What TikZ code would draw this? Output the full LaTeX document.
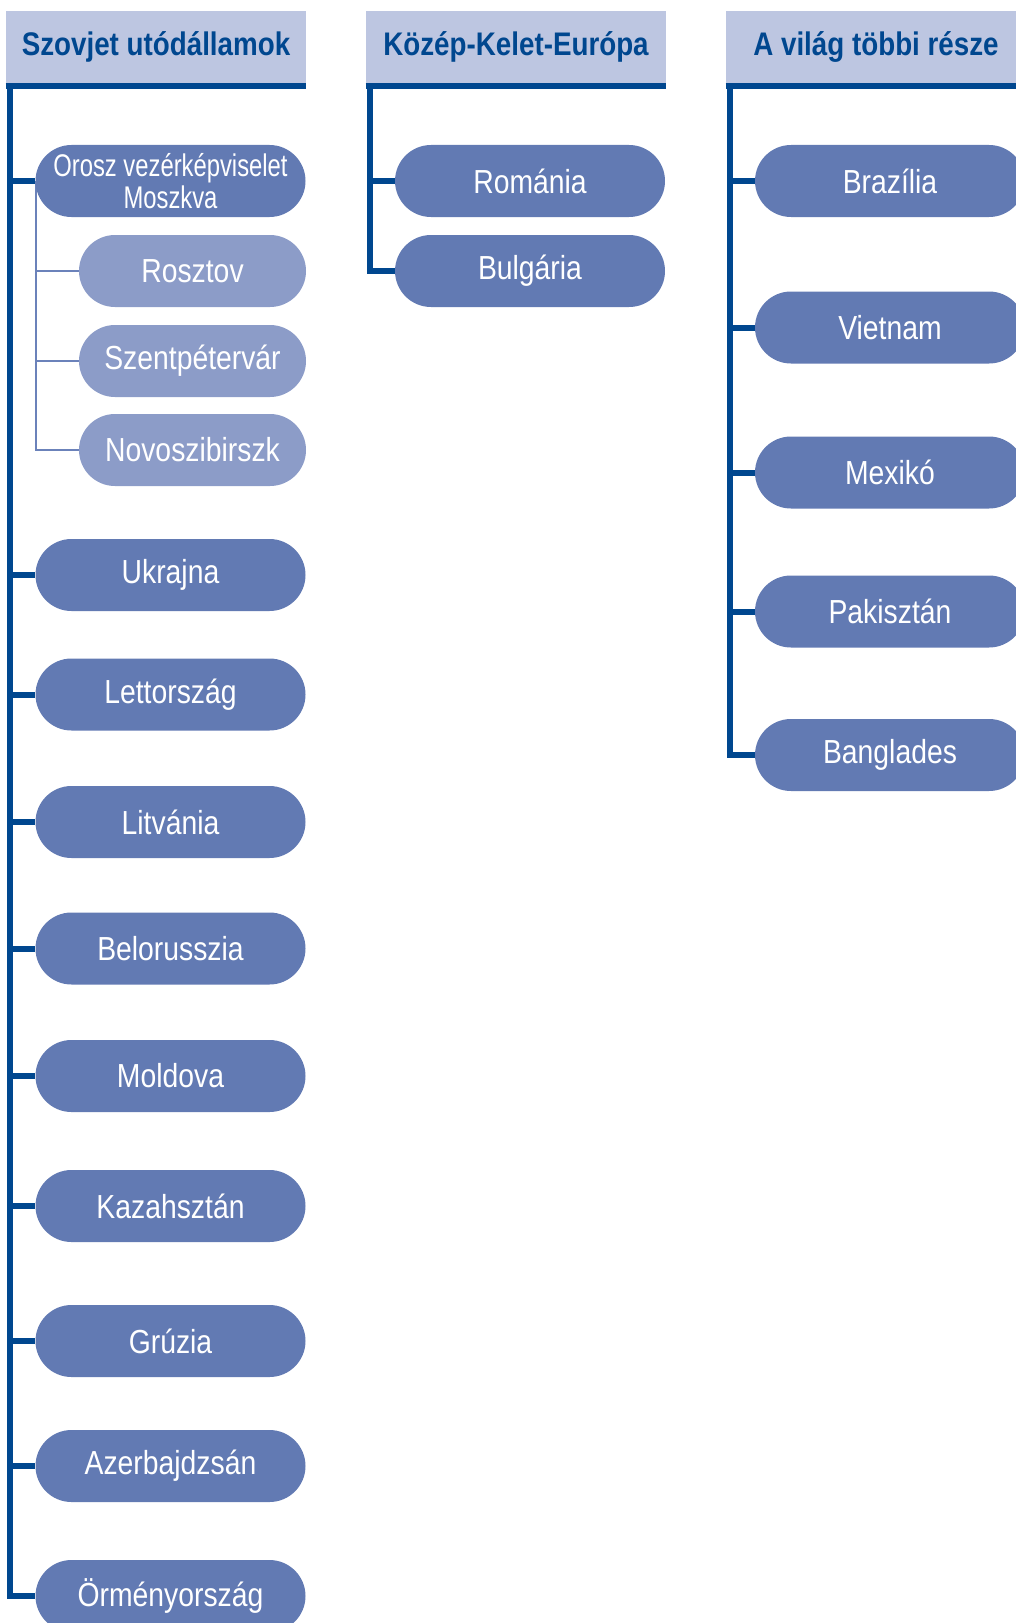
\documentclass[tikz,border=0pt]{standalone}
\usepackage{fontspec}
\setmainfont[FakeStretch=0.85]{Liberation Sans}
\newfontfamily\narrowfnt[FakeStretch=0.76]{Liberation Sans}
\usetikzlibrary{shapes.misc,backgrounds}

\definecolor{navy}{HTML}{00478F}
\definecolor{headfill}{HTML}{BDC6E1}
\definecolor{nodeblue}{HTML}{627AB3}
\definecolor{nodelight}{HTML}{8C9CC8}
\definecolor{twigblue}{HTML}{6B82BA}

\begin{document}
\begin{tikzpicture}[x=0.75pt,y=-0.75pt,font=\fontsize{25pt}{27pt}\selectfont]
  \tikzstyle{head}=[rectangle,fill=headfill,text=navy,font=\fontsize{24.5pt}{26pt}\selectfont\bfseries,minimum width=225pt,minimum height=54pt,inner sep=0pt]
  \tikzstyle{land}=[rounded rectangle,fill=nodeblue,text=white,minimum width=202.5pt,minimum height=54pt,inner sep=0pt]
  \tikzstyle{city}=[land,fill=nodelight,minimum width=170.25pt]
  \tikzstyle{trunk}=[draw=navy,line width=4.5pt]
  \tikzstyle{twig}=[draw=twigblue,line width=1.5pt]

  \useasboundingbox (0,0) rectangle (1016,1623);

        % headers
        \node[head] (szov) at (156,47) {Szovjet utódállamok};
        \node[head] (kke)  at (516,47) {Közép-Kelet-Európa};
        \node[head] (vil)  at (876,47) {A világ többi része};

        % Szovjet utodallamok
        \node[land] (orosz) at (170.5,181) [align=center,font=\narrowfnt\fontsize{23.5pt}{24pt}\selectfont] {Orosz vezérképviselet\\Moszkva};
        \node[city] (rosz) at (192.5,271) {Rosztov};
        \node[city] (szpb) at (192.5,361) {Szentpétervár};
        \node[city] (novo) at (192.5,450) {Novoszibirszk};
        \node[land] (ukr)  at (170.5,575)  {Ukrajna};
        \node[land] (lett) at (170.5,694.5) {Lettország};
        \node[land] (litv) at (170.5,822)  {Litvánia};
        \node[land] (belo) at (170.5,948.5) {Belorusszia};
        \node[land] (mold) at (170.5,1076) {Moldova};
        \node[land] (kaz)  at (170.5,1206) {Kazahsztán};
        \node[land] (gru)  at (170.5,1341) {Grúzia};
        \node[land] (azer) at (170.5,1466) {Azerbajdzsán};
        \node[land] (orm)  at (170.5,1596) {Örményország};

        % Kozep-Kelet-Europa
        \node[land] (rom) at (530,181) {Románia};
        \node[land] (bul) at (530,271) {Bulgária};

        % A vilag tobbi resze
        \node[land] (bra) at (890,181)   {Brazília};
        \node[land] (vie) at (890,327.5) {Vietnam};
        \node[land] (mex) at (890,472.5) {Mexikó};
        \node[land] (pak) at (890,611.5) {Pakisztán};
        \node[land] (ban) at (890,755)   {Banglades};

        \coordinate (t1) at (10,86);
        \coordinate (t2) at (370,86);
        \coordinate (t3) at (730,86);
        \coordinate (t1b) at (36,181);

        \draw[trunk] ([yshift=-2.25pt]szov.south west) -- ([yshift=-2.25pt]szov.south east);
        \draw[trunk] ([yshift=-2.25pt]kke.south west) -- ([yshift=-2.25pt]kke.south east);
        \draw[trunk] ([yshift=-2.25pt]vil.south west) -- ([yshift=-2.25pt]vil.south east);

  \begin{scope}[on background layer]
        \foreach \n in {orosz,ukr,lett,litv,belo,mold,kaz,gru,azer,orm}
            \draw[trunk] (t1) |- (\n.west);
        \foreach \n in {rom,bul}
            \draw[trunk] (t2) |- (\n.west);
        \foreach \n in {bra,vie,mex,pak,ban}
            \draw[trunk] (t3) |- (\n.west);
        \foreach \n in {rosz,szpb,novo}
            \draw[twig] (t1b) |- (\n.west);
  \end{scope}

\end{tikzpicture}
\end{document}
